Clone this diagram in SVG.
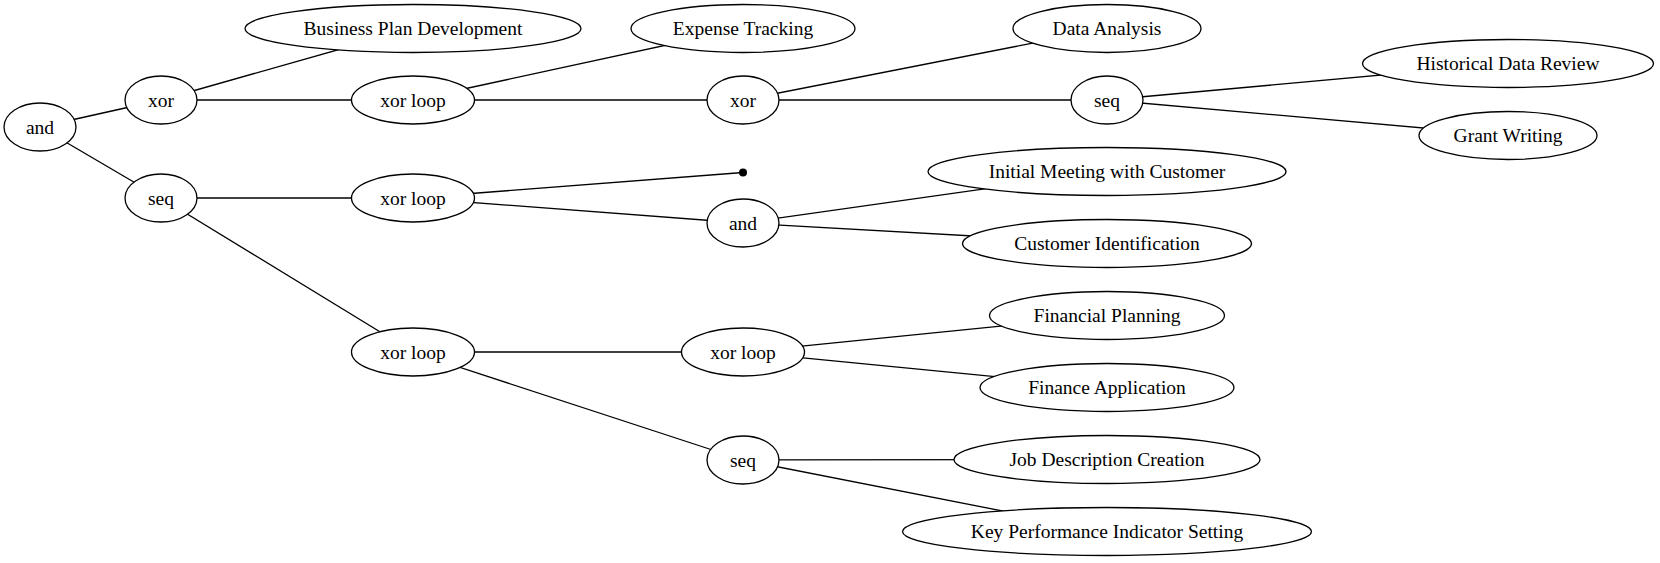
<svg xmlns="http://www.w3.org/2000/svg" width="1660" height="563" viewBox="0 0 1660 563">
<style>
.n ellipse{fill:#fff;stroke:#000;stroke-width:1.3}
.n text{font-family:"Liberation Serif","Times New Roman",serif;font-size:19.5px;text-anchor:middle;fill:#000}
#edges line{stroke:#000;stroke-width:1.3}
</style>
<rect width="1660" height="563" fill="#fff"/>
<g id="edges">
<line x1="40" y1="127" x2="161" y2="100"/>
<line x1="40" y1="127" x2="161" y2="198"/>
<line x1="161" y1="100" x2="413" y2="28.5"/>
<line x1="161" y1="100" x2="413" y2="100"/>
<line x1="413" y1="100" x2="743" y2="28.5"/>
<line x1="413" y1="100" x2="743" y2="100"/>
<line x1="743" y1="100" x2="1107" y2="28.5"/>
<line x1="743" y1="100" x2="1107" y2="100"/>
<line x1="1107" y1="100" x2="1508" y2="63.5"/>
<line x1="1107" y1="100" x2="1508" y2="135.5"/>
<line x1="161" y1="198" x2="413" y2="198"/>
<line x1="161" y1="198" x2="413" y2="352"/>
<line x1="413" y1="198" x2="743" y2="172.5"/>
<line x1="413" y1="198" x2="743" y2="223"/>
<line x1="743" y1="223" x2="1107" y2="171.5"/>
<line x1="743" y1="223" x2="1107" y2="243.5"/>
<line x1="413" y1="352" x2="743" y2="352"/>
<line x1="413" y1="352" x2="743" y2="460"/>
<line x1="743" y1="352" x2="1107" y2="315.5"/>
<line x1="743" y1="352" x2="1107" y2="387.5"/>
<line x1="743" y1="460" x2="1107" y2="459.5"/>
<line x1="743" y1="460" x2="1107" y2="531.5"/>
</g>
<g id="and0" class="n"><ellipse cx="40" cy="127" rx="36" ry="24"/><text x="40" y="133.5">and</text></g>
<g id="xor1" class="n"><ellipse cx="161" cy="100" rx="36" ry="24"/><text x="161" y="106.5">xor</text></g>
<g id="seq1" class="n"><ellipse cx="161" cy="198" rx="36" ry="24"/><text x="161" y="204.5">seq</text></g>
<g id="bpd" class="n"><ellipse cx="413" cy="28.5" rx="168" ry="24"/><text x="413" y="35">Business Plan Development</text></g>
<g id="xorloop1" class="n"><ellipse cx="413" cy="100" rx="61.5" ry="24"/><text x="413" y="106.5">xor loop</text></g>
<g id="xorloop2" class="n"><ellipse cx="413" cy="198" rx="61.5" ry="24"/><text x="413" y="204.5">xor loop</text></g>
<g id="xorloop3" class="n"><ellipse cx="413" cy="352" rx="61.5" ry="24"/><text x="413" y="358.5">xor loop</text></g>
<g id="et" class="n"><ellipse cx="743" cy="28.5" rx="112" ry="24"/><text x="743" y="35">Expense Tracking</text></g>
<g id="xor2" class="n"><ellipse cx="743" cy="100" rx="36" ry="24"/><text x="743" y="106.5">xor</text></g>
<g id="dot"><circle cx="743" cy="172.5" r="4" fill="#000"/></g>
<g id="and2" class="n"><ellipse cx="743" cy="223" rx="36" ry="24"/><text x="743" y="229.5">and</text></g>
<g id="xorloop4" class="n"><ellipse cx="743" cy="352" rx="61.5" ry="24"/><text x="743" y="358.5">xor loop</text></g>
<g id="seq3" class="n"><ellipse cx="743" cy="460" rx="36" ry="24"/><text x="743" y="466.5">seq</text></g>
<g id="da" class="n"><ellipse cx="1107" cy="28.5" rx="94" ry="24"/><text x="1107" y="35">Data Analysis</text></g>
<g id="seq2" class="n"><ellipse cx="1107" cy="100" rx="36" ry="24"/><text x="1107" y="106.5">seq</text></g>
<g id="imc" class="n"><ellipse cx="1107" cy="171.5" rx="179" ry="24"/><text x="1107" y="178">Initial Meeting with Customer</text></g>
<g id="ci" class="n"><ellipse cx="1107" cy="243.5" rx="144.5" ry="24"/><text x="1107" y="250">Customer Identification</text></g>
<g id="fp" class="n"><ellipse cx="1107" cy="315.5" rx="117.5" ry="24"/><text x="1107" y="322">Financial Planning</text></g>
<g id="fa" class="n"><ellipse cx="1107" cy="387.5" rx="127" ry="24"/><text x="1107" y="394">Finance Application</text></g>
<g id="jdc" class="n"><ellipse cx="1107" cy="459.5" rx="153" ry="24"/><text x="1107" y="466">Job Description Creation</text></g>
<g id="kpi" class="n"><ellipse cx="1107" cy="531.5" rx="204.5" ry="24"/><text x="1107" y="538">Key Performance Indicator Setting</text></g>
<g id="hdr" class="n"><ellipse cx="1508" cy="63.5" rx="145.5" ry="24"/><text x="1508" y="70">Historical Data Review</text></g>
<g id="gw" class="n"><ellipse cx="1508" cy="135.5" rx="89" ry="24"/><text x="1508" y="142">Grant Writing</text></g>
</svg>
